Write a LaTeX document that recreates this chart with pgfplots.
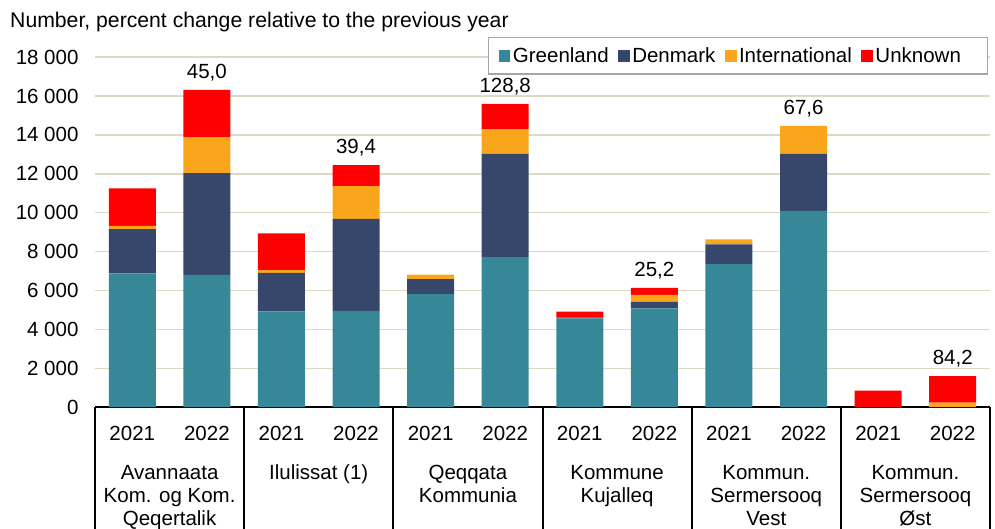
\documentclass[border=0pt]{standalone}
\usepackage{pgfplots}
\pgfplotsset{compat=1.18}
\usepackage{pgfplotstable}
\usepackage{fontspec}
\setmainfont{Liberation Sans}
\definecolor{cG}{RGB}{54,136,152}
\definecolor{cD}{RGB}{54,71,107}
\definecolor{cI}{RGB}{249,166,29}
\definecolor{cU}{RGB}{255,0,0}
\definecolor{cGrid}{RGB}{221,217,195}
\definecolor{cLeg}{RGB}{166,166,166}

\pgfplotstableread{
x G D I U
0 6880 2280 160 1930
1 6800 5240 1850 2420
2 4930 1970 150 1890
3 4950 4730 1680 1080
4 5820 770 220 0
5 7710 5310 1280 1300
6 4570 50 0 290
7 5080 330 370 350
8 7360 1010 260 0
9 10090 2940 1430 0
10 0 0 0 850
11 0 0 230 1370
}\data

\pgfplotstableread[col sep=semicolon]{
x;T;lab
1;16310;45,0
3;12440;39,4
5;15600;128,8
7;6130;25,2
9;14460;67,6
11;1600;84,2
}\labs

\pgfplotsset{common/.style={
  at={(95pt,120.8pt)}, anchor=south west,
  scale only axis, width=895pt, height=350.1pt,
  xmin=-0.5, xmax=11.5, ymin=0, ymax=18000,
  bar width=47pt, clip=false}}

\begin{document}
\begin{tikzpicture}[font=\fontsize{20.5}{23.3}\selectfont]
\useasboundingbox (0,0) rectangle (995pt,528pt);
\node[anchor=base west, inner sep=0pt, font=\fontsize{21.2}{24}\selectfont] at (10pt,500pt) {Number, percent change relative to the previous year};
\begin{axis}[
  common,
  ybar stacked,
  axis line style={draw=none},
  major tick length=0pt,
  ytick={0,2000,...,18000},
  ymajorgrids, grid style={cGrid, line width=1.5pt},
  yticklabel style={/pgf/number format/.cd,1000 sep={\ },assume math mode=true,/tikz/.cd, xshift=-13pt},
  scaled y ticks=false,
  xtick={0,...,11},
  xticklabels={2021,2022,2021,2022,2021,2022,2021,2022,2021,2022,2021,2022},
  xticklabel style={yshift=-15pt},
  legend columns=4,
  legend style={at={(0.9978,1.0574)}, anchor=north east, draw=cLeg, line width=1.2pt,
    inner xsep=10pt, inner ysep=10pt,
    nodes={inner xsep=1.5pt, inner ysep=0pt},
    /tikz/every odd column/.append style={column sep=1pt},
    /tikz/every even column/.append style={column sep=8pt}},
  legend image code/.code={\fill[#1] (0pt,-5.8pt) rectangle (11.6pt,5.8pt);},
]
\addplot[fill=cG, draw=none] table[x=x, y=G] {\data};
\addplot[fill=cD, draw=none] table[x=x, y=D] {\data};
\addplot[fill=cI, draw=none] table[x=x, y=I] {\data};
\addplot[fill=cU, draw=none] table[x=x, y=U] {\data};
\legend{Greenland,Denmark,International,Unknown\kern15pt\mbox{}}
\draw[black, line width=2pt] (axis cs:-0.5,0) -- (axis cs:11.5,0);
\draw[black, line width=2pt] (axis cs:-0.5,0) -- ++(0pt,-130pt);
\draw[black, line width=2pt] (axis cs:1.5,0) -- ++(0pt,-130pt);
\draw[black, line width=2pt] (axis cs:3.5,0) -- ++(0pt,-130pt);
\draw[black, line width=2pt] (axis cs:5.5,0) -- ++(0pt,-130pt);
\draw[black, line width=2pt] (axis cs:7.5,0) -- ++(0pt,-130pt);
\draw[black, line width=2pt] (axis cs:9.5,0) -- ++(0pt,-130pt);
\draw[black, line width=2pt] (axis cs:11.5,0) -- ++(0pt,-130pt);
\node[anchor=base] at ([yshift=-71.8pt]axis cs:0.5,0) {Avannaata};
\node[anchor=base] at ([yshift=-95.1pt]axis cs:0.5,0) {Kom. og Kom.};
\node[anchor=base] at ([yshift=-118.4pt]axis cs:0.5,0) {Qeqertalik};
\node[anchor=base] at ([yshift=-71.8pt]axis cs:2.5,0) {Ilulissat (1)};
\node[anchor=base] at ([yshift=-71.8pt]axis cs:4.5,0) {Qeqqata};
\node[anchor=base] at ([yshift=-95.1pt]axis cs:4.5,0) {Kommunia};
\node[anchor=base] at ([yshift=-71.8pt]axis cs:6.5,0) {Kommune};
\node[anchor=base] at ([yshift=-95.1pt]axis cs:6.5,0) {Kujalleq};
\node[anchor=base] at ([yshift=-71.8pt]axis cs:8.5,0) {Kommun.};
\node[anchor=base] at ([yshift=-95.1pt]axis cs:8.5,0) {Sermersooq};
\node[anchor=base] at ([yshift=-118.4pt]axis cs:8.5,0) {Vest};
\node[anchor=base] at ([yshift=-71.8pt]axis cs:10.5,0) {Kommun.};
\node[anchor=base] at ([yshift=-95.1pt]axis cs:10.5,0) {Sermersooq};
\node[anchor=base] at ([yshift=-118.4pt]axis cs:10.5,0) {Øst};
\end{axis}
\begin{axis}[common, hide axis, ybar]
\addplot[draw=none, fill=none, nodes near coords, point meta=explicit symbolic,
  nodes near coords style={anchor=south, inner sep=0pt, yshift=8.5pt, text=black}]
  table[x=x, y=T, meta=lab] {\labs};
\end{axis}
\end{tikzpicture}
\end{document}
